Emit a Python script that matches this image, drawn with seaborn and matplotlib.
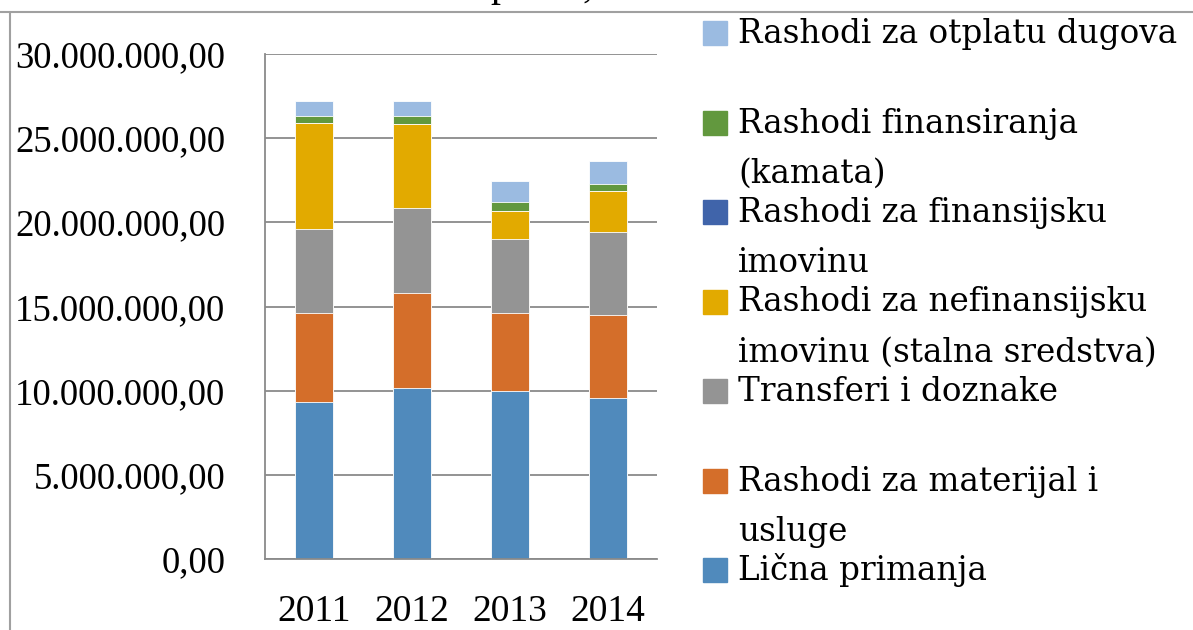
import matplotlib
matplotlib.use("Agg")
import matplotlib.pyplot as plt
import matplotlib.patches as mpatches
from matplotlib.lines import Line2D
from matplotlib.ticker import FuncFormatter, MultipleLocator, FixedLocator
import seaborn as sns
import pandas as pd
import numpy as np

# data (KM)
years = ['2011', '2012', '2013', '2014']
licna = [9310000, 10160000, 10000000, 9560000]
materijal = [5290000, 5620000, 4600000, 4920000]
transferi = [4990000, 5060000, 4430000, 4960000]
nefinansijska = [6310000, 5020000, 1640000, 2400000]
finansijska = [0, 0, 0, 0]
kamata = [430000, 470000, 520000, 460000]
otplata = [900000, 900000, 1280000, 1340000]

categories = ['Lična primanja',
              'Rashodi za materijal i\nusluge',
              'Transferi i doznake',
              'Rashodi za nefinansijsku\nimovinu (stalna sredstva)',
              'Rashodi za finansijsku\nimovinu',
              'Rashodi finansiranja\n(kamata)',
              'Rashodi za otplatu dugova']
series = [licna, materijal, transferi, nefinansijska, finansijska, kamata, otplata]
colors = ['#508ABC', '#D46E2A', '#949494', '#E2AA00', '#4064AA', '#62983E', '#9BBBE1']

sns.set_style('white')
plt.rcParams['font.family'] = ['Liberation Serif', 'DejaVu Serif']
plt.rcParams['text.color'] = 'black'

W, H = 1193, 630
fig = plt.figure(figsize=(W / 100, H / 100), dpi=100)
ax = fig.add_axes([265 / W, 1 - 559 / H, (657 - 265) / W, (559 - 54) / H])

# stacked bars: draw cumulative totals from the top down
cum = np.cumsum(np.array(series), axis=0)
for i in range(len(series) - 1, -1, -1):
    df = pd.DataFrame({'year': years, 'value': cum[i]})
    sns.barplot(data=df, x='year', y='value', color=colors[i], width=0.39,
                errorbar=None, ax=ax, edgecolor='white', linewidth=0.6,
                saturation=1, order=years)

ax.set_xlim(-0.5, 3.5)
ax.set_ylim(0, 30000000)
ax.yaxis.set_major_locator(MultipleLocator(5000000))


def fmt(v, pos):
    s = f"{v:,.2f}"
    return s.replace(',', 'X').replace('.', ',').replace('X', '.')


ax.yaxis.set_major_formatter(FuncFormatter(fmt))
ax.set_xlabel('')
ax.set_ylabel('')

gray = '#8a8a8a'
ax.yaxis.grid(True, color=gray, lw=1.3)
ax.set_axisbelow(True)
for s in ['top', 'right']:
    ax.spines[s].set_visible(False)
for s in ['left', 'bottom']:
    ax.spines[s].set_color(gray)
    ax.spines[s].set_linewidth(1.3)

ax.tick_params(axis='y', length=8.6, width=1.3, color=gray, labelcolor='black',
               pad=20, labelsize=26.5)
ax.tick_params(axis='x', which='major', length=0, pad=25.5, labelsize=27,
               labelcolor='black')
ax.xaxis.set_minor_locator(FixedLocator(np.arange(-0.5, 4, 1)))
ax.tick_params(axis='x', which='minor', length=9.4, width=1.3, color=gray)

# legend, Excel style, top entry = last series
x_patch, first_center, step = 703, 33, 89.5
for k, i in enumerate(range(len(series) - 1, -1, -1)):
    c = first_center + k * step
    fig.patches.append(mpatches.Rectangle((x_patch / W, 1 - (c + 12) / H), 24 / W, 24 / H,
                                          transform=fig.transFigure, color=colors[i]))
    for j, line in enumerate(categories[i].split('\n')):
        fig.text(738 / W, 1 - (c + 10 + j * 50) / H, line, fontsize=23.5,
                 family=['DejaVu Serif'], va='baseline', ha='left', color='black')

# chart border and the title, cut off by the top edge as in the original
border = '#a0a0a0'
fig.add_artist(Line2D([0, 1], [1 - 12 / H] * 2, transform=fig.transFigure, color=border, lw=1.5))
fig.add_artist(Line2D([10 / W] * 2, [0, 1 - 12 / H], transform=fig.transFigure, color=border, lw=1.5))
fig.text(500 / W, 1 + 4 / H, 'p', fontsize=29, va='baseline', ha='center')
fig.text(588 / W, 1 + 3 / H, ',', fontsize=29, va='baseline', ha='center')

fig.savefig('out.png', dpi=100)
